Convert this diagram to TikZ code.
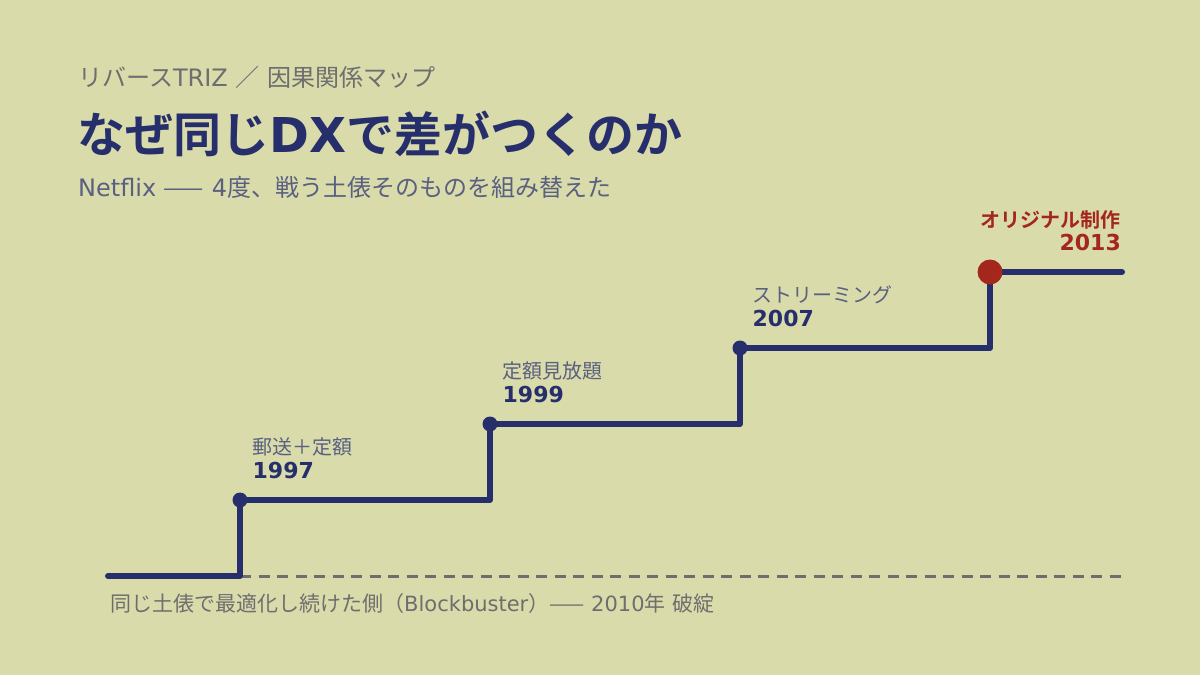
\documentclass[tikz,border=0pt]{standalone}
\usepackage{fontspec}
\setmainfont{Noto Sans CJK JP}[BoldFont={Noto Sans CJK JP Bold}]
\newfontfamily\lat{DejaVu Sans}
\usetikzlibrary{positioning}
\definecolor{bg}{HTML}{D9DBAB}
\definecolor{navy}{HTML}{262F6B}
\definecolor{brick}{HTML}{A3271D}
\definecolor{mute}{HTML}{6E6E6E}
\definecolor{slate}{HTML}{5A6080}
\newcommand{\fs}[1]{\fontsize{#1}{#1}\selectfont}

\begin{document}
\begin{tikzpicture}[x=1pt,y=-1pt,
    txt/.style={inner sep=0pt,anchor=west},
    stair/.style={navy,line width=6pt,line cap=round,line join=round},
    base/.style={mute,line width=3pt,dash pattern=on 11pt off 7.5pt},
    dot/.style={circle,fill=navy,inner sep=0pt,minimum size=15pt},
    bigdot/.style={circle,fill=brick,inner sep=0pt,minimum size=25pt},
    event/.style={inner sep=0pt,slate,font=\fs{20}},
    year/.style={inner sep=0pt,navy,font=\lat\fs{22}\bfseries}]
   \fill[bg] (0,0) rectangle (1200,675);
   \useasboundingbox (0,0) rectangle (1200,675);
   % heading
   \node[txt,mute,font=\fs{24}] (kicker) at (78,77) {リバース{\lat TRIZ }／{\lat\ }因果関係マップ};
   \node[txt,navy,font=\fs{48}\bfseries] (title) at (77,134) {なぜ同じ{\lat DX}で差がつくのか};
   \node[txt,slate,font=\fs{24}] (sub) at (78,187) {{\lat Netflix }——{\lat\ 4}度、戦う土俵そのものを組み替えた};
   % stairs
   \coordinate (start) at (108,576);
   \coordinate (end) at (1122,272);
   \coordinate (dashend) at (1122,576);
   \node[dot] (d1) at (240,500) {};
   \node[dot] (d2) at (490,424) {};
   \node[dot] (d3) at (740,348) {};
   \coordinate (corner) at (240,576);
   \draw[base] (corner) -- (dashend);
   \draw[stair] (start) -| (d1.center) -| (d2.center) -| (d3.center) -| (990,272) -- (end);
   \node[bigdot] (d4) at (990,272) {};
   % labels
   \node[year,above right=16pt and 7pt of d1] (y1) {1997};
   \node[event,above=5pt of y1.north west,anchor=south west] (e1) {郵送＋定額};
   \node[year,above right=16pt and 7pt of d2] (y2) {1999};
   \node[event,above=5pt of y2.north west,anchor=south west] (e2) {定額見放題};
   \node[year,above right=16pt and 7pt of d3] (y3) {2007};
   \node[event,above=5pt of y3.north west,anchor=south west] (e3) {ストリーミング};
   \node[year,brick,anchor=east] (y4) at (1121,242.5) {2013};
   \node[event,brick,font=\fs{20}\bfseries,above=5pt of y4.north east,anchor=south east] (e4) {オリジナル制作};
   \node[txt,mute,font=\fs{21}] (foot) at (110,604) {同じ土俵で最適化し続けた側（{\lat Blockbuster}）——{\lat\ 2010}年{\lat\ }破綻};
\end{tikzpicture}
\end{document}
